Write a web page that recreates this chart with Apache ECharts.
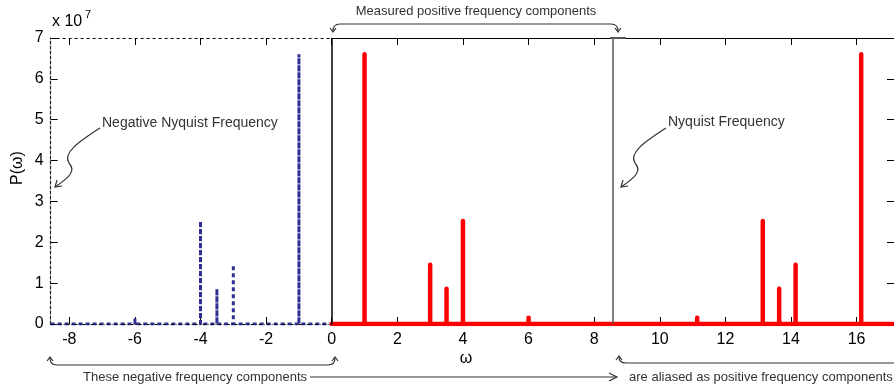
<!DOCTYPE html>
<html>
<head>
<meta charset="utf-8">
<script src="https://cdn.jsdelivr.net/npm/echarts@6/dist/echarts.min.js"></script>
<style>html,body{margin:0;padding:0;background:#fff;}#c{width:894px;height:387px;}</style>
</head>
<body>
<div id="c"></div>
<script>
// ---- data ----
const nyquist = 8.57;
const xMin = -8.57;
const xMax = 17.14;
const xTicks = [-8, -6, -4, -2, 0, 2, 4, 6, 8, 10, 12, 14, 16];
const yTicks = [0, 1, 2, 3, 4, 5, 6, 7];
const negFreq = [-6, -4, -3.5, -3, -1];
const negPow = [0.15, 2.52, 0.86, 1.45, 6.6];
const posFreq = [1, 3, 3.5, 4, 6];
const posPow = [6.6, 1.45, 0.86, 2.52, 0.15];
const aliasFreq = [11.14, 13.14, 13.64, 14.14, 16.14];
const aliasPow = [0.15, 2.52, 0.86, 1.45, 6.6];

function spikes(freqs, pows, start, end) {
  const d = [[start, 0]];
  freqs.forEach((f, i) => { d.push([f, 0], [f, pows[i]], [f, 0]); });
  d.push([end, 0]);
  return d;
}

const FONT = "'Liberation Sans', Arial, Helvetica, sans-serif";
const ink = '#333';
const chart = echarts.init(document.getElementById('c'), null, {renderer: 'canvas'});

function arrowLine(pts) { return {type: 'polyline', shape: {points: pts}, style: {stroke: ink, lineWidth: 1.2, fill: null}, z: 50}; }
function seg(x1, y1, x2, y2) { return {type: 'line', shape: {x1, y1, x2, y2}, style: {stroke: ink, lineWidth: 1.2}, z: 50}; }
function quad(x1, y1, cx, cy, x2, y2) { return {type: 'bezierCurve', shape: {x1, y1, cpx1: cx, cpy1: cy, x2, y2}, style: {stroke: ink, lineWidth: 1.2, fill: null}, z: 50}; }
function cubic(x1, y1, c1x, c1y, c2x, c2y, x2, y2) { return {type: 'bezierCurve', shape: {x1, y1, cpx1: c1x, cpy1: c1y, cpx2: c2x, cpy2: c2y, x2, y2}, style: {stroke: ink, lineWidth: 1.2, fill: null}, z: 50}; }
function txt(x, y, text, size, align) {
  return {type: 'text', x, y, style: {text, fill: ink, font: size + 'px ' + FONT, align: align || 'left', verticalAlign: 'middle'}, z: 50};
}
function squiggle(dx) {
  return [
    cubic(100 + dx, 128, 82 + dx, 140, 62 + dx, 152, 69 + dx, 163),
    cubic(69 + dx, 163, 76 + dx, 171, 70 + dx, 177, 55 + dx, 187),
    arrowLine([[57 + dx, 180], [55 + dx, 187], [62 + dx, 186]])
  ];
}

const graphics = [].concat(
  [seg(340, 24, 611, 24), quad(340, 24, 333, 24, 333, 31), arrowLine([[330, 28], [333, 32], [336, 28]]),
   quad(611, 24, 618, 24, 618, 31), arrowLine([[615, 28], [618, 32], [621, 28]]),
   txt(476, 11, 'Measured positive frequency components', 13, 'center')],
  [seg(57, 365, 328, 365), quad(57, 365, 50, 365, 50, 358), arrowLine([[47, 361], [50, 357], [53, 361]]),
   quad(328, 365, 335, 365, 335, 358), arrowLine([[332, 361], [335, 357], [338, 361]])],
  [seg(626, 363, 900, 363), quad(626, 363, 619, 363, 619, 357), arrowLine([[616, 360], [619, 356], [622, 360]])],
  [seg(310, 377, 616, 377), arrowLine([[609, 373], [617, 377], [609, 381]]),
   txt(83, 377, 'These negative frequency components', 13),
   txt(629, 377, 'are aliased as positive frequency components', 13)],
  squiggle(0), [txt(102, 123, 'Negative Nyquist Frequency', 14)],
  squiggle(566), [txt(668, 122, 'Nyquist Frequency', 14)],
  [{type: 'text', x: 52, y: 30, style: {text: 'x 10', fill: '#000', font: '16px ' + FONT, align: 'left', verticalAlign: 'bottom'}, z: 50},
   {type: 'text', x: 85, y: 20, style: {text: '7', fill: '#000', font: '11px ' + FONT, align: 'left', verticalAlign: 'bottom'}, z: 50},
   {type: 'text', x: 17.5, y: 168, rotation: Math.PI / 2, style: {text: 'P(ω)', fill: '#000', font: '16px ' + FONT, align: 'center', verticalAlign: 'middle'}, z: 50},
   {type: 'text', x: 466, y: 359, style: {text: 'ω', fill: '#000', font: '16px ' + FONT, align: 'center', verticalAlign: 'middle'}, z: 50},
   {type: 'line', shape: {x1: 610, y1: 38, x2: 626, y2: 38}, style: {stroke: '#555', lineWidth: 2}, z: 40}]
);

const option = {
  animation: false,
  backgroundColor: '#fff',
  grid: {left: 50.6, right: -6.8, top: 38, bottom: 63, containLabel: false},
  xAxis: [
    {type: 'value', min: xMin, max: xMax, position: 'bottom',
     axisLine: {show: false, onZero: false},
     axisTick: {show: true, inside: true, length: 7, customValues: xTicks, lineStyle: {color: '#000', width: 1}},
     axisLabel: {show: true, customValues: xTicks, margin: 8, color: '#000', fontSize: 16, fontFamily: FONT},
     splitLine: {show: false}},
    {type: 'value', min: xMin, max: xMax, position: 'top',
     axisLine: {show: false, onZero: false},
     axisTick: {show: true, inside: true, length: 7, customValues: xTicks, lineStyle: {color: '#000', width: 1}},
     axisLabel: {show: false},
     splitLine: {show: false}}
  ],
  yAxis: [
    {type: 'value', min: 0, max: 7, interval: 1, position: 'left',
     axisLine: {show: true, onZero: false, lineStyle: {color: '#222', width: 1.2, type: [3, 2]}},
     axisTick: {show: true, inside: true, length: 7, lineStyle: {color: '#000'}},
     axisLabel: {show: true, margin: 7, color: '#000', fontSize: 16, fontFamily: FONT,
       formatter: v => yTicks.indexOf(v) >= 0 ? String(v) : ''},
     splitLine: {show: false}},
    {type: 'value', min: 0, max: 7, interval: 1, position: 'right',
     axisLine: {show: false, onZero: false},
     axisTick: {show: true, inside: true, length: 7, lineStyle: {color: '#000'}},
     axisLabel: {show: false},
     splitLine: {show: false}}
  ],
  series: [
    {type: 'line', name: 'frame', data: [], z: 1, silent: true,
     markLine: {silent: true, symbol: ['none', 'none'], label: {show: false}, animation: false,
       data: [
         [{coord: [xMin, 7], lineStyle: {type: [3, 3], color: '#000', width: 1}}, {coord: [0, 7]}],
         [{coord: [0, 7], lineStyle: {type: 'solid', color: '#000', width: 1.2}}, {coord: [xMax, 7]}],
         [{coord: [xMin, 0], lineStyle: {type: [3, 2, 1, 2], color: '#000', width: 1}}, {coord: [0, 0]}],
         [{coord: [0, 0], lineStyle: {type: 'solid', color: '#000', width: 1.5}}, {coord: [0, 7]}],
         [{coord: [nyquist, 0], lineStyle: {type: 'solid', color: '#555', width: 1.5}}, {coord: [nyquist, 7]}]
       ]}},
    {type: 'line', name: 'negative', data: spikes(negFreq, negPow, xMin, 0), showSymbol: false, z: 3,
     lineStyle: {color: '#2e3192', width: 3, type: [4, 3], cap: 'butt'}},
    {type: 'line', name: 'positive', data: spikes(posFreq.concat(aliasFreq), posPow.concat(aliasPow), 0, xMax), showSymbol: false, z: 4,
     lineStyle: {color: '#ff0000', width: 4.5, cap: 'round', join: 'round'}}
  ],
  graphic: graphics
};
chart.setOption(option);
</script>
</body>
</html>
